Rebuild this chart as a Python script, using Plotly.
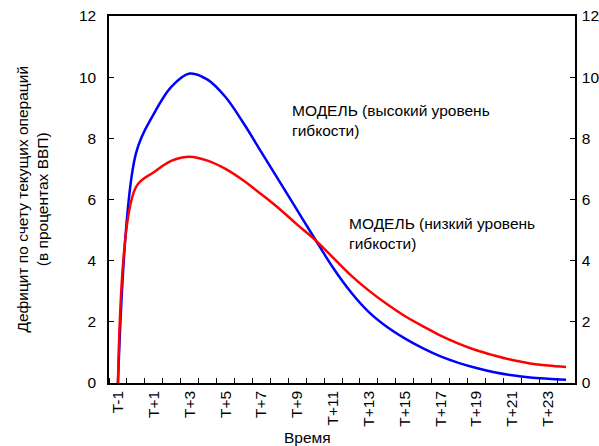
import plotly.graph_objects as go

# Periods (T-1 ... T+24)
periods = ["T-1", "T"] + [f"T+{k}" for k in range(1, 25)]

# Current account deficit, % of GDP
high_flex = [0.0, 7.5, 8.8, 9.7, 10.12, 9.92, 9.35, 8.5, 7.55, 6.6, 5.65, 4.70,
             3.77, 2.97, 2.32, 1.84, 1.46, 1.14, 0.87, 0.66, 0.49, 0.35, 0.25,
             0.18, 0.14, 0.11]
low_flex = [0.0, 6.4, 6.89, 7.27, 7.40, 7.27, 7.0, 6.62, 6.17, 5.70, 5.18, 4.68,
            4.10, 3.52, 3.02, 2.58, 2.19, 1.86, 1.55, 1.29, 1.07, 0.90, 0.75,
            0.64, 0.57, 0.52]

y_ticks = [0, 2, 4, 6, 8, 10, 12]

xs = list(range(len(periods)))
FONT = "Arial, Liberation Sans, sans-serif"
FS = 15.5

fig = go.Figure()
fig.add_trace(go.Scatter(x=xs, y=high_flex, mode="lines",
                         line=dict(color="#0000FF", width=2.5, shape="spline", smoothing=1.0),
                         showlegend=False))
# second series is attached to the right-hand axis (same scale as the left one)
fig.add_trace(go.Scatter(x=xs, y=low_flex, mode="lines", yaxis="y2",
                         line=dict(color="#FF0000", width=2.5, shape="spline", smoothing=1.0),
                         showlegend=False))

axis_common = dict(range=[0, 12], tickvals=y_ticks, ticks="inside", ticklen=5,
                   tickcolor="black", showgrid=False, zeroline=False,
                   showline=True, linecolor="black", linewidth=1.5,
                   tickfont=dict(size=FS), automargin=False)

fig.update_layout(
    width=599, height=446,
    margin=dict(l=109, r=24, t=16, b=63, autoexpand=False),
    paper_bgcolor="white", plot_bgcolor="white",
    font=dict(family=FONT, size=FS, color="black"),
    xaxis=dict(
        range=[-0.5, len(periods) - 0.5],
        tickmode="array", tickvals=xs[::2], ticktext=periods[::2],
        tickangle=-90, ticks="", showgrid=False, zeroline=False,
        showline=True, linecolor="black", linewidth=1.5, mirror=True,
        minor=dict(ticks="inside", ticklen=5, tickcolor="black", tickwidth=1,
                   tick0=-0.5, dtick=1, showgrid=False),
        tickfont=dict(size=FS), automargin=False,
    ),
    yaxis=dict(**axis_common, ticklabelstandoff=8),
    yaxis2=dict(**axis_common, overlaying="y", side="right", ticklabelstandoff=2),
)

fig.add_annotation(text="МОДЕЛЬ (высокий уровень<br>гибкости)", x=9.59, y=9.24,
                   xref="x", yref="y", xanchor="left", yanchor="top", align="left",
                   showarrow=False, font=dict(size=FS))
fig.add_annotation(text="МОДЕЛЬ (низкий уровень<br>гибкости)", x=12.77, y=5.56,
                   xref="x", yref="y", xanchor="left", yanchor="top", align="left",
                   showarrow=False, font=dict(size=FS))
fig.add_annotation(text="Дефицит по счету текущих операций<br>(в процентах ВВП)",
                   x=-0.165, y=0.5, xref="paper", yref="paper", textangle=-90,
                   xanchor="center", yanchor="middle", showarrow=False,
                   font=dict(size=FS))
fig.add_annotation(text="Время", x=0.425, y=-0.149, xref="paper", yref="paper",
                   xanchor="center", yanchor="middle", showarrow=False,
                   font=dict(size=FS))

fig.write_html("out.html")
